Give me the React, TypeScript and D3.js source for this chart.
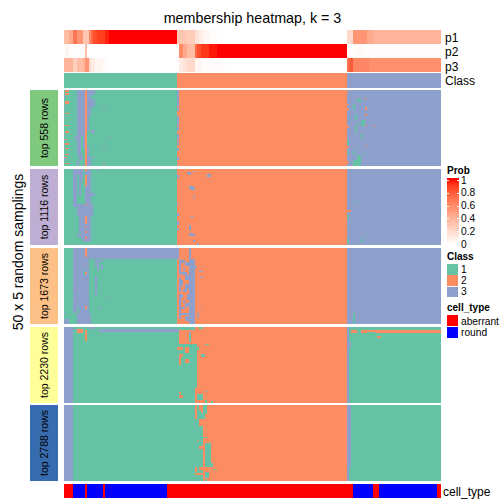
import React from "react";
import * as d3 from "d3";

const nCols = 188;
const nRows = 50;

// annotation probabilities as [value, column count]
const p1Runs: [number, number][] = [[.35,3],[.45,2],[.7,2],[.55,3],[.3,3],[.6,1],[.75,1],[.85,2],[.9,4],[.97,2],[1,33],[.3,5],[.27,4],[.15,2],[.1,2],[.05,3],[.02,4],[0,65],[.2,3],[.55,7],[.45,3],[.4,34]];
const p2Runs: [number, number][] = [[0,1],[.05,2],[.01,8],[.35,1],[0,44],[.02,1],[.6,2],[.45,2],[.35,4],[.75,1],[.85,2],[.92,4],[.98,4],[1,65],[.01,4],[.03,4],[.01,3],[.02,36]];
const p3Runs: [number, number][] = [[.4,5],[.25,2],[.35,3],[.4,1],[.55,2],[.2,1],[.1,2],[.05,4],[.02,3],[0,33],[.02,1],[.1,2],[.15,2],[.2,4],[.05,3],[.02,12],[0,61],[.7,1],[.8,2],[.62,8],[.58,36]];
const classRuns: [number, number][] = [[1,56],[2,85],[3,47]];
const cellTypeRuns: [string, number][] = [["a",5],["r",6],["a",1],["r",8],["a",1],["r",30],["a",93],["r",10],["a",3],["r",29],["a",2]];

// patches: [class, colFrom, colTo, rowFrom, rowTo]
type Patch = [number, number, number, number, number];
const base123: Patch[] = [[1,0,56,0,50],[2,56,141,0,50],[3,141,188,0,50]];

const top558: Patch[] = [...base123,
  [3,7,10,0,30],[3,6,9,30,33],[3,7,9,33,43],[3,8,10,43,46],[3,7,8,46,50],[3,10,11,0,38],
  [3,12,16,0,3],[3,12,14,3,6],[3,12,16,6,11],[3,12,14,11,17],[3,12,13,17,27],[3,14,16,26,28],[3,12,13,37,50],[3,13,14,44,50],[3,14,16,44,45],
  [2,11,12,0,50],
  [2,1,3,0,1],[2,1,3,2,3],[2,1,3,7,9],[2,1,3,15,16],[2,1,3,23,24],[2,1,3,27,28],[2,1,2,32,33],[2,1,3,35,36],[2,1,3,38,39],[2,1,3,42,43],[2,1,2,44,45],[2,1,3,48,49],
  [3,0,1,3,6],[3,0,1,10,12],[3,0,1,17,18],[3,0,1,29,30],[3,0,1,37,38],[3,0,1,44,46],
  [3,20,21,12,13],[3,23,24,30,31],[3,20,21,37,38],[2,20,21,48,49],
  [3,56,57,0,11],[3,56,57,12,14],[3,56,57,17,23],[3,56,57,24,27],[3,56,57,29,32],[3,56,57,33,34],[3,56,57,35,36],[3,56,57,38,40],[3,56,57,44,46],[3,56,57,48,49],
  [2,141,142,1,2],[2,141,142,9,10],[2,141,142,12,13],[2,141,142,24,25],[2,141,142,37,38],[2,141,142,47,48],
  [1,144,145,9,13],[1,146,148,6,8],[1,145,146,16,20],[1,142,143,19,20],[1,146,147,21,23],[1,148,150,20,24],
  [1,145,146,24,28],[1,148,149,29,32],[1,141,142,33,36],[1,141,142,40,42],[1,144,145,40,43],[1,146,148,43,46],[1,144,148,46,50],[1,149,150,42,43],
  [2,150,151,5,6],[2,150,151,11,13],[2,150,151,16,17],[2,150,151,23,24],[2,154,155,23,24],[2,150,151,36,37],
];

const top1116: Patch[] = [...base123,
  [3,5,10,0,4],[3,5,7,4,25],[3,8,9,4,18],[3,8,10,4,8],[3,11,14,0,45],[3,7,15,23,31],[3,8,14,31,42],[3,9,14,42,46],[3,7,10,43,45],[3,10,14,46,48],[3,14,16,16,18],
  [2,11,12,0,1],[2,11,12,4,11],[2,11,12,23,24],[2,11,12,31,36],[2,11,12,38,39],[2,11,12,41,42],[2,11,12,45,46],[3,17,18,0,1],
  [3,56,57,4,6],[3,56,57,23,24],[3,56,57,29,31],[3,56,57,34,37],[3,56,57,39,40],
  [3,61,63,2,3],[3,62,63,3,4],[3,64,65,1,2],[3,71,73,3,5],[3,62,64,11,13],[3,63,65,12,14],[3,64,65,17,18],[3,64,65,19,20],[3,63,64,31,32],[3,62,63,37,40],[3,62,64,42,44],[3,63,65,43,44],[3,64,65,47,48],[3,66,67,49,50],
  [1,145,146,21,22],[2,141,143,27,28],[1,141,142,30,33],[1,141,142,38,39],[1,148,149,46,48],[1,141,142,46,49],
];

const top1673: Patch[] = [...base123,
  [3,5,13,0,43],[3,5,188,0,7],[3,7,14,43,50],[2,57,62,0,7],[3,56,57,0,7],[2,63,141,0,7],[3,62,63,0,7],[3,141,188,0,7],
  [2,11,12,0,6],[2,11,12,16,17],[2,11,12,38,40],[1,10,11,15,18],[1,7,8,30,31],[1,7,8,39,43],
  [3,16,17,18,31],[3,16,20,8,9],[3,16,18,9,12],[3,19,20,11,14],[3,17,18,12,15],[3,21,22,32,33],[3,18,19,39,40],
  [3,0,1,43,44],[3,0,3,47,50],
  [3,62,65,7,50],[3,57,58,7,47],[3,58,60,8,10],[3,60,62,9,12],[3,59,60,13,15],[3,58,61,16,18],[3,60,62,18,21],[3,58,59,21,25],[3,60,62,24,27],[3,59,61,27,29],[3,58,59,30,33],[3,61,62,30,34],[3,59,60,34,36],[3,60,62,36,39],[3,57,60,39,40],[3,58,62,43,44],[3,60,62,45,48],
  [2,57,58,17,19],[2,57,58,29,30],
  [3,65,66,12,13],[3,67,69,15,16],[3,67,69,19,20],[3,67,68,38,39],[3,66,67,43,44],[3,66,67,45,46],
  [1,144,145,43,50],
];

const top2230: Patch[] = [
  [3,0,5,0,50],[1,5,65,0,50],[2,65,141,0,50],[3,141,142,0,50],[1,142,188,0,50],
  [3,13,16,0,1],[3,18,57,1,3],[3,5,7,1,2],[1,57,65,0,2],
  [2,7,10,1,4],[2,11,12,2,9],[2,57,65,2,11],[3,62,63,3,5],[1,62,63,5,10],
  [2,56,59,13,15],[2,60,62,13,17],[2,57,59,18,20],[2,57,58,20,25],[2,60,62,21,24],
  [1,65,66,11,40],[1,66,67,13,15],[1,68,70,18,20],[1,70,72,11,12],[2,65,66,42,47],[1,66,69,44,48],[2,57,59,45,47],[2,57,58,43,44],[1,70,71,48,50],[1,73,74,49,50],[1,70,71,42,43],
  [1,67,69,0,1],
  [2,143,188,2,4],[1,146,148,2,4],[1,151,155,3,4],[2,156,158,6,7],[3,141,143,10,14],
];

const top2788: Patch[] = [
  [3,0,5,0,50],[1,5,69,0,50],[2,69,141,0,50],[3,141,143,0,41],[3,141,142,41,50],[1,143,188,0,50],
  [2,65,66,0,9],[2,67,69,0,3],[2,67,69,9,14],[2,68,69,3,5],[1,69,71,0,6],[1,69,70,6,9],
  [2,66,67,23,24],[1,69,71,21,22],[2,67,69,27,29],[2,69,70,22,48],[1,70,73,25,38],[1,70,74,38,41],[2,73,74,28,29],
  [2,65,66,41,44],[2,67,69,41,43],[1,70,72,44,48],[2,65,69,45,46],[2,70,71,48,50],[1,74,76,42,43],[1,70,71,49,50],[2,75,77,31,32],
];

const panelNames = ["top 558 rows", "top 1116 rows", "top 1673 rows", "top 2230 rows", "top 2788 rows"];
const panelPatches = [top558, top1116, top1673, top2230, top2788];
const panelColors = ["#7FC97F", "#BEAED4", "#FDC086", "#FFFF99", "#386CB0"];
const panelTops = [90, 169, 248, 327, 405];
const panelBottoms = [166, 245, 324, 403, 481];

const classColors: Record<number, string> = { 1: "#66C2A5", 2: "#FC8D62", 3: "#8DA0CB" };
const cellColors: Record<string, string> = { a: "#FF0000", r: "#0000FF" };
const probTicks = [0, 0.2, 0.4, 0.6, 0.8, 1];
const classLabels = [1, 2, 3];
const cellLabels = [["a", "aberrant"], ["r", "round"]];
const annotNames = ["p1", "p2", "p3"];
const annotRuns = [p1Runs, p2Runs, p3Runs];
const annotTops = [30, 44, 58];
const annotBaselines = [41.5, 56, 70.5];

const FONT = "'Liberation Sans', Arial, sans-serif";
const heat = d3.scaleLinear<string>().domain([0, 1]).range(["#FFFFFF", "#FF0000"]).interpolate(d3.interpolateLab);
// the first column is clipped by the heatmap's left edge; pixel grid shifts by one cell width past col 30
const xs = d3.scaleLinear().domain([0, 30, 31, nCols]).range([63, 123, 127, 441]);
const px = (c: number) => Math.max(64, Math.round(xs(c)));

function Runs({ runs, y, h, color }: { runs: [any, number][]; y: number; h: number; color: (v: any) => string }) {
  let c = 0;
  return (
    <g>
      {runs.map(([v, n], i) => {
        const x0 = px(c);
        c += n;
        return <rect key={i} x={x0} y={y} width={px(c) - x0} height={h} fill={color(v)} />;
      })}
    </g>
  );
}

function Panel({ patches, top, bottom }: { patches: Patch[]; top: number; bottom: number }) {
  const m: number[][] = d3.range(nRows).map(() => new Array(nCols).fill(1));
  patches.forEach(([k, c0, c1, r0, r1]) => {
    for (let r = r0; r < r1; r++) for (let c = c0; c < c1; c++) m[r][c] = k;
  });
  const ys = d3.scaleLinear().domain([0, nRows]).range([top, bottom]);
  const rects: React.ReactNode[] = [];
  m.forEach((row, r) => {
    const y0 = Math.round(ys(r));
    const h = Math.round(ys(r + 1)) - y0;
    let start = 0;
    for (let c = 1; c <= nCols; c++) {
      if (c === nCols || row[c] !== row[start]) {
        rects.push(<rect key={r + "-" + start} x={px(start)} y={y0} width={px(c) - px(start)} height={h} fill={classColors[row[start]]} />);
        start = c;
      }
    }
  });
  return <g>{rects}</g>;
}

export default function App() {
  const probY = d3.scaleLinear().domain([0, 1]).range([244, 180]);
  const bar = d3.range(178, 245);
  return (
    <svg width={504} height={504} shapeRendering="crispEdges" fontFamily={FONT} fill="#000"
      style={{ position: "absolute", left: 0, top: 0, display: "block", background: "#fff" }}>
      <text x={252.5} y={23} fontSize={14.3} textAnchor="middle" shapeRendering="auto">membership heatmap, k = 3</text>

      {annotRuns.map((runs, i) => (
        <g key={annotNames[i]}>
          <Runs runs={runs} y={annotTops[i]} h={14} color={(v) => heat(v)} />
          <text x={445} y={annotBaselines[i]} fontSize={12}>{annotNames[i]}</text>
        </g>
      ))}
      <Runs runs={classRuns} y={73} h={15} color={(v) => classColors[v]} />
      <text x={445} y={85} fontSize={12}>Class</text>

      {panelNames.map((name, i) => (
        <g key={name}>
          <rect x={30} y={panelTops[i]} width={28} height={panelBottoms[i] - panelTops[i]} fill={panelColors[i]} />
          <text transform={`translate(48,${(panelTops[i] + panelBottoms[i]) / 2}) rotate(-90)`} fontSize={10.5} textAnchor="middle">{name}</text>
          <Panel patches={panelPatches[i]} top={panelTops[i]} bottom={panelBottoms[i]} />
        </g>
      ))}
      <text transform="translate(23,252) rotate(-90)" fontSize={14} textAnchor="middle">50 x 5 random samplings</text>

      <Runs runs={cellTypeRuns} y={484} h={14} color={(v) => cellColors[v]} />
      <text x={443} y={496} fontSize={12}>cell_type</text>

      <text x={447} y={174} fontSize={10} fontWeight="bold">Prob</text>
      {bar.map((y) => (
        <rect key={y} x={447} y={y} width={12} height={1} fill={heat(Math.min(1, Math.max(0, probY.invert(y + 0.5))))} />
      ))}
      {probTicks.map((t) => (
        <g key={t}>
          <line x1={447} x2={449} y1={Math.round(probY(t))} y2={Math.round(probY(t))} stroke="#fff" />
          <line x1={457} x2={459} y1={Math.round(probY(t))} y2={Math.round(probY(t))} stroke="#fff" />
          <text x={461} y={probY(t) + 3.5} fontSize={10.2}>{t}</text>
        </g>
      ))}

      <text x={447} y={260} fontSize={10} fontWeight="bold">Class</text>
      {classLabels.map((k, i) => (
        <g key={k}>
          <rect x={447} y={264 + i * 11.4} width={11} height={10.6} fill={classColors[k]} />
          <text x={461} y={273 + i * 11.2} fontSize={10.2}>{k}</text>
        </g>
      ))}

      <text x={447} y={311} fontSize={10} fontWeight="bold">cell_type</text>
      {cellLabels.map(([k, label], i) => (
        <g key={k}>
          <rect x={447} y={315 + i * 12} width={11} height={11} fill={cellColors[k]} />
          <text x={461} y={324.5 + i * 11} fontSize={10.2}>{label}</text>
        </g>
      ))}
    </svg>
  );
}
